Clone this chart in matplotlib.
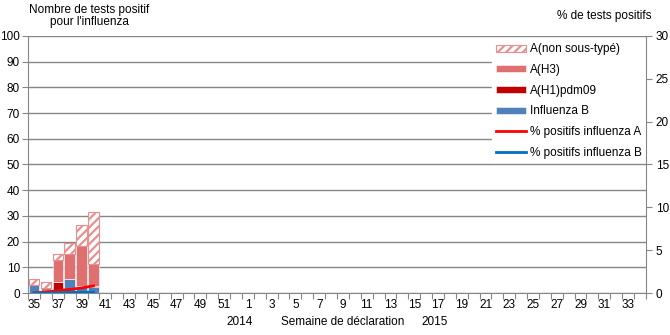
import numpy as np
import matplotlib
matplotlib.use('Agg')
import matplotlib.pyplot as plt

plt.rcParams['font.family'] = ['Liberation Sans', 'DejaVu Sans']
plt.rcParams['font.size'] = 8.5
plt.rcParams['hatch.linewidth'] = 1.6

# ── Data: surveillance weeks 35 (2014) to 34 (2015) ───────────────────────
weeks = list(range(35, 53)) + list(range(1, 35))

# counts of positive tests per week (only weeks 35-40 reported)
flu_b      = [3.0, 0.5, 1.2, 5.3, 2.3, 2.3]
a_h1pdm09  = [0.0, 0.0, 3.0, 0.3, 0.6, 0.6]
a_h3       = [0.0, 1.6, 8.5, 9.6, 15.5, 8.4]
a_unsub    = [2.5, 2.2, 2.6, 4.3, 8.1, 20.2]

# percent positive (right axis)
pct_a = [0.03, 0.12, 0.30, 0.43, 0.60, 0.85]
pct_b = [0.03, 0.03, 0.05, 0.08, 0.10, 0.12]

# ── Colours ───────────────────────────────────────────────────────────────
c_b    = '#4F81BD'
c_h1   = '#C00000'
c_h3   = '#E07070'
c_grid = '#868686'

fig = plt.figure(figsize=(6.7, 3.35), dpi=100)
ax = fig.add_axes([0.042, 0.125, 0.922, 0.768])

n = len(flu_b)
x = np.arange(n)
w = 0.88

b1 = np.array(flu_b)
b2 = b1 + np.array(a_h1pdm09)
b3 = b2 + np.array(a_h3)

ax.bar(x, flu_b, w, color=c_b, edgecolor='white', linewidth=0.4,
       label='Influenza B', zorder=3)
ax.bar(x, a_h1pdm09, w, bottom=b1, color=c_h1, edgecolor='white',
       linewidth=0.4, label='A(H1)pdm09', zorder=3)
ax.bar(x, a_h3, w, bottom=b2, color=c_h3, edgecolor='white',
       linewidth=0.4, label='A(H3)', zorder=3)
ax.bar(x, a_unsub, w, bottom=b3, color='white', edgecolor='#E89090',
       linewidth=0.8, hatch='////', label='A(non sous-typé)', zorder=3)

ax.set_xlim(-0.5, len(weeks) - 0.5)
ax.set_ylim(0, 100)
ax.set_yticks(range(0, 101, 10))
ax.yaxis.grid(True, color=c_grid, linewidth=1.0)
ax.set_axisbelow(True)

# category ticks between weeks, labels every other week
ax.set_xticks(np.arange(len(weeks) + 1) - 0.5)
ax.set_xticklabels([])
ax.set_xticks(np.arange(0, len(weeks), 2), minor=True)
ax.set_xticklabels([str(weeks[i]) for i in range(0, len(weeks), 2)], minor=True)
ax.tick_params(axis='x', which='major', length=4, color=c_grid)
ax.tick_params(axis='x', which='minor', length=0, pad=4)
ax.tick_params(axis='y', length=4, color=c_grid, pad=2)

for side in ['top', 'right']:
    ax.spines[side].set_visible(False)
for side in ['left', 'bottom']:
    ax.spines[side].set_color(c_grid)

# percent positive on right axis
ax2 = ax.twinx()
ax2.plot(x, pct_a, color='#FF0000', linewidth=2, label='% positifs influenza A',
         zorder=4)
ax2.plot(x, pct_b, color='#0070C0', linewidth=2, label='% positifs influenza B',
         zorder=4)
ax2.set_ylim(0, 30)
ax2.set_yticks(range(0, 31, 5))
ax2.tick_params(axis='y', length=4, color=c_grid, pad=3)
for side in ['top', 'left', 'bottom']:
    ax2.spines[side].set_visible(False)
ax2.spines['right'].set_color(c_grid)
ax2.spines['right'].set_zorder(20)

# legend
h1, l1 = ax.get_legend_handles_labels()
h2, l2 = ax2.get_legend_handles_labels()
order = [3, 2, 1, 0]
handles = [h1[i] for i in order] + h2
labels = [l1[i] for i in order] + l2
leg = ax2.legend(handles, labels, loc='upper right',
                 bbox_to_anchor=(0.999, 0.985), frameon=True, fancybox=False,
                 edgecolor='white', framealpha=1, handlelength=2.6,
                 handleheight=0.55, handletextpad=0.3, labelspacing=0.74,
                 borderpad=0.3, borderaxespad=0.0)
leg.set_zorder(10)

# axis titles
fig.text(0.133, 0.915, "Nombre de tests positif\npour l'influenza",
         ha='center', va='bottom', linespacing=1.0)
fig.text(0.973, 0.935, '% de tests positifs', ha='right', va='bottom')
fig.text(0.358, 0.02, '2014', ha='center', va='bottom')
fig.text(0.512, 0.02, 'Semaine de déclaration', ha='center', va='bottom')
fig.text(0.649, 0.02, '2015', ha='center', va='bottom')

fig.savefig('out.png', dpi=100)
